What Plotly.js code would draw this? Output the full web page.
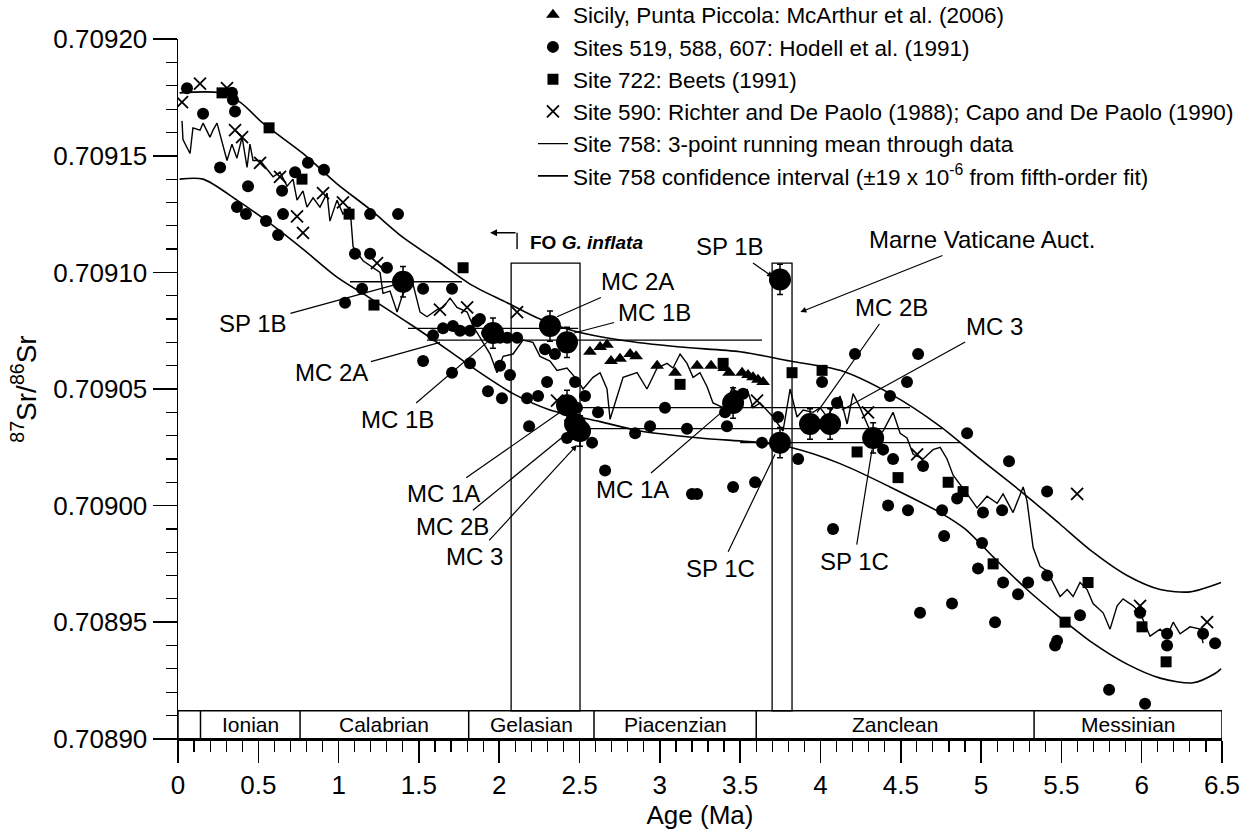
<!DOCTYPE html>
<html>
<head>
<meta charset="utf-8">
<script src="https://cdn.plot.ly/plotly-3.0.1.min.js"></script>
<style>html,body{margin:0;padding:0;background:#fff;}#chart{width:1246px;height:832px;}</style>
</head>
<body>
<div id="chart"></div>
<script>
// ---- Data ----
const triAge = [2.565,2.628,2.671,2.696,2.752,2.815,2.852,2.983,3.095,3.232,3.319,3.400,3.431,3.512,3.549,3.580,3.611,3.643];
const triSr  = [0.709066,0.709068,0.709069,0.709062,0.709063,0.709065,0.709064,0.709060,0.709057,0.709060,0.709060,0.709059,0.709057,0.709057,0.709056,0.709055,0.709054,0.709053];

const circAge = [0.056,0.156,0.336,0.342,0.355,0.262,0.436,0.367,0.423,0.548,0.623,0.654,0.648,0.729,0.809,0.909,1.196,1.370,1.102,1.196,1.301,1.146,1.526,1.706,1.040,
  1.650,1.712,1.588,1.756,1.818,1.862,1.880,1.924,2.005,2.049,2.111,1.526,1.818,1.706,2.005,2.067,1.930,2.017,2.285,2.347,2.298,2.472,2.534,2.173,2.242,
  2.484,2.615,2.186,2.422,2.578,2.846,2.939,3.032,2.659,3.169,3.406,3.468,3.418,3.200,3.232,3.456,3.593,3.636,3.861,3.518,
  3.736,4.010,4.215,4.608,4.539,4.433,4.103,4.390,4.452,4.639,4.913,5.174,4.421,4.545,4.757,5.012,5.131,4.851,4.078,4.770,
  5.006,4.981,5.137,5.293,5.230,5.411,5.411,4.620,4.819,5.087,5.616,5.473,5.461,5.990,6.158,6.158,6.382,6.457,5.797,6.021];
const circSr = [0.709179,0.709168,0.709177,0.709174,0.709169,0.709145,0.709137,0.709128,0.709125,0.709122,0.709116,0.709125,0.709135,0.709143,0.709147,0.709144,0.709125,0.709125,0.709108,0.709108,0.709102,0.709093,0.709093,0.709093,0.709087,
  0.709076,0.709077,0.709073,0.709075,0.709075,0.709079,0.709080,0.709074,0.709072,0.709072,0.709072,0.709062,0.709061,0.709057,0.709060,0.709056,0.709049,0.709046,0.709067,0.709065,0.709053,0.709053,0.709047,0.709046,0.709047,
  0.709042,0.709040,0.709034,0.709029,0.709027,0.709031,0.709034,0.709042,0.709015,0.709033,0.709040,0.709047,0.709034,0.709005,0.709005,0.709008,0.709010,0.709027,0.709020,0.709048,
  0.709038,0.709053,0.709065,0.709065,0.709053,0.709047,0.709044,0.709024,0.709020,0.709017,0.709031,0.709019,0.709000,0.708998,0.708998,0.708997,0.708998,0.709003,0.708990,0.708987,
  0.708984,0.708973,0.708967,0.708967,0.708962,0.708970,0.709006,0.708954,0.708958,0.708950,0.708953,0.708942,0.708940,0.708954,0.708945,0.708940,0.708945,0.708941,0.708921,0.708915];

const sqAge = [0.274,0.567,0.772,1.065,1.775,1.220,3.126,3.394,3.823,4.010,4.228,4.483,4.795,4.888,5.075,5.666,5.523,6.002,6.152];
const sqSr  = [0.709177,0.709162,0.709140,0.709125,0.709102,0.709086,0.709052,0.709061,0.709057,0.709058,0.709023,0.709012,0.709010,0.709006,0.708975,0.708967,0.708950,0.708948,0.708933];

const crAge = [0.025,0.137,0.305,0.355,0.399,0.511,0.635,0.741,0.778,0.903,1.027,1.239,1.631,1.800,2.111,2.360,3.605,4.296,4.602,5.598,5.990,6.407];
const crSr  = [0.709173,0.709181,0.709179,0.709161,0.709158,0.709147,0.709141,0.709124,0.709117,0.709134,0.709130,0.709104,0.709084,0.709085,0.709083,0.709045,0.709045,0.709040,0.709022,0.709005,0.708957,0.708950];

const meanAge = [0.025,0.031,0.075,0.093,0.137,0.156,0.199,0.218,0.243,0.280,
  0.305,0.336,0.367,0.399,0.430,0.448,0.467,0.511,0.554,0.592,
  0.635,0.679,0.716,0.741,0.778,0.803,0.841,0.884,0.928,0.946,
  0.990,1.027,1.071,1.090,1.152,1.214,1.258,1.276,1.320,1.364,
  1.401,1.463,1.507,1.550,1.613,1.650,1.694,1.737,1.800,1.837,
  1.880,1.943,1.986,2.024,2.086,2.148,2.210,2.254,2.316,2.360,
  2.422,2.484,2.522,2.584,2.628,2.671,2.690,2.734,2.771,2.858,
  2.920,2.983,3.045,3.082,3.126,3.169,3.207,3.250,3.294,3.331,
  3.394,3.456,3.499,3.543,3.580,3.624,3.705,3.767,3.811,3.854,
  3.892,3.954,3.998,4.041,4.122,4.166,4.203,4.247,4.290,4.328,
  4.390,4.452,4.496,4.539,4.577,4.639,4.701,4.745,4.788,4.826,
  4.913,4.975,5.037,5.100,5.137,5.199,5.262,5.286,5.324,5.367,
  5.411,5.448,5.492,5.536,5.573,5.616,5.660,5.697,5.760,5.803,
  5.847,5.884,5.947,5.990,6.052,6.115,6.158,6.196,6.239,6.301,
  6.364,6.382];
const meanSr = [0.709165,0.709157,0.709151,0.709162,0.709161,0.709164,0.709158,0.709161,0.709164,0.709155,
  0.709148,0.709155,0.709149,0.709158,0.709145,0.709155,0.709148,0.709148,0.709144,0.709141,
  0.709143,0.709137,0.709140,0.709131,0.709135,0.709128,0.709132,0.709128,0.709134,0.709122,
  0.709131,0.709125,0.709128,0.709111,0.709105,0.709102,0.709100,0.709091,0.709092,0.709083,
  0.709091,0.709095,0.709083,0.709081,0.709084,0.709085,0.709089,0.709085,0.709083,0.709077,
  0.709072,0.709065,0.709057,0.709064,0.709065,0.709071,0.709070,0.709064,0.709062,0.709058,
  0.709059,0.709054,0.709050,0.709055,0.709057,0.709050,0.709037,0.709047,0.709055,0.709057,
  0.709050,0.709059,0.709061,0.709059,0.709065,0.709061,0.709055,0.709057,0.709051,0.709044,
  0.709042,0.709051,0.709044,0.709050,0.709042,0.709044,0.709038,0.709032,0.709050,0.709038,
  0.709041,0.709040,0.709042,0.709038,0.709047,0.709035,0.709048,0.709042,0.709035,0.709029,
  0.709032,0.709040,0.709031,0.709029,0.709022,0.709020,0.709024,0.709025,0.709020,0.709013,
  0.709005,0.708999,0.709004,0.709001,0.709005,0.708997,0.709008,0.709002,0.708982,0.708974,
  0.708972,0.708967,0.708961,0.708964,0.708961,0.708967,0.708964,0.708958,0.708954,0.708947,
  0.708957,0.708960,0.708957,0.708954,0.708944,0.708947,0.708944,0.708950,0.708945,0.708948,
  0.708947,0.708941];

const ciUpAge = [0.01,0.26,0.386,0.529,0.778,0.990,1.196,1.401,1.613,1.818,2.049,2.254,2.460,2.752,3.126,3.499,3.811,4.122,4.433,4.745,4.994,5.286,5.492,5.697,5.909,6.115,6.301,6.494];
const ciUp    = [0.709177,0.709177,0.709173,0.709164,0.709151,0.709138,0.709127,0.709115,0.709105,0.709095,0.709087,0.709080,0.709075,0.709071,0.709068,0.709066,0.709062,0.709058,0.709048,0.709034,0.709020,0.709004,0.708992,0.708980,0.708970,0.708964,0.708963,0.708967];
const ciLoAge = [0.01,0.156,0.367,0.573,0.778,0.990,1.196,1.463,1.675,1.880,2.086,2.316,2.628,2.877,3.250,3.624,3.811,4.122,4.433,4.745,4.900,5.075,5.286,5.492,5.697,5.909,6.115,6.320,6.457,6.494];
const ciLo    = [0.709140,0.709140,0.709131,0.709121,0.709110,0.709098,0.709089,0.709077,0.709067,0.709057,0.709048,0.709041,0.709036,0.709032,0.709029,0.709027,0.709025,0.709018,0.709008,0.708997,0.708990,0.708978,0.708964,0.708952,0.708941,0.708932,0.708926,0.708924,0.708928,0.708930];

// labelled samples (large symbols)
const bigAge = [1.401,3.748,1.961,2.316,2.422,2.422,3.456,2.472,2.503,3.935,4.060,3.748,4.328];
const bigSr  = [0.709096,0.709097,0.709074,0.709077,0.709070,0.709043,0.709044,0.709035,0.709032,0.709035,0.709035,0.709027,0.709029];
const bigErr = [0.0000065,0.0000065,0.0000065,0.0000065,0.0000065,0.0000065,0.0000065,0.0000065,0.0000065,0.0000065,0.0000065,0.0000065,0.0000065];

// age ranges of labelled samples projected on the confidence band
const rangeStart = [1.071,1.432,1.550,2.360,2.470,3.500];
const rangeEnd   = [1.768,2.491,3.636,4.558,4.760,4.870];
const rangeSr    = [0.709096,0.709076,0.709071,0.709042,0.709033,0.709027];

// boxes: FO G. inflata and Marne Vaticane Auct.
const boxStart = [2.074,3.699];
const boxEnd   = [2.503,3.823];
const boxTop   = 0.709104;

// stages
const stageNames  = ['', 'Ionian','Calabrian','Gelasian','Piacenzian','Zanclean','Messinian'];
const stageBounds = [0, 0.14, 0.76, 1.81, 2.59, 3.60, 5.33, 6.5];
const stageTop = 0.708912;

// annotation labels
const labText = ['SP 1B','MC 2A','MC 1B','MC 2A','MC 1B','SP 1B','Marne Vaticane Auct.','MC 2B','MC 3','SP 1C','SP 1C','MC 1A','MC 1A','MC 2B','MC 3'];
const labX    = [0.467,0.953,1.364,2.858,2.964,3.437,5.006,4.440,5.081,4.209,3.375,2.827,1.650,1.712,1.843];
const labY    = [0.709078,0.709057,0.709037,0.709096,0.709083,0.709111,0.709114,0.709085,0.709077,0.708976,0.708973,0.709007,0.709005,0.708991,0.708978];
const tipX    = [1.364,1.631,1.924,2.360,2.466,3.705,3.875,3.979,4.134,4.321,3.717,3.418,2.379,2.441,2.484];
const tipY    = [0.709095,0.709070,0.709070,0.709081,0.709074,0.709098,0.709083,0.709040,0.709041,0.709024,0.709022,0.709042,0.709040,0.709032,0.709026];
const tipHead = [0,0,0,0,0,1,1,0,0,0,0,0,0,0,1];

// ---- Build chart ----
const FONT = 'Liberation Sans, Arial, Helvetica, sans-serif';
const K = '#000';

const rx = [], ry = [];
for (let i = 0; i < rangeStart.length; i++) {
  rx.push(rangeStart[i], rangeEnd[i], null);
  ry.push(rangeSr[i], rangeSr[i], null);
}

const traces = [
  {x: ciUpAge, y: ciUp, mode: 'lines', line: {color: K, width: 1.6, shape: 'spline', smoothing: 0.8},
   name: 'Site 758 confidence interval (±19 x 10<sup>-6</sup> from fifth-order fit)', legendrank: 6},
  {x: ciLoAge, y: ciLo, mode: 'lines', line: {color: K, width: 1.6, shape: 'spline', smoothing: 0.8}, showlegend: false},
  {x: meanAge, y: meanSr, mode: 'lines', line: {color: K, width: 1.4},
   name: 'Site 758: 3-point running mean through data', legendrank: 5},
  {x: rx, y: ry, mode: 'lines', line: {color: K, width: 1.3}, showlegend: false, connectgaps: false},
  {x: triAge, y: triSr, mode: 'markers', marker: {symbol: 'triangle-up', size: 12, color: K},
   name: 'Sicily, Punta Piccola: McArthur et al. (2006)', legendrank: 1},
  {x: circAge, y: circSr, mode: 'markers', marker: {symbol: 'circle', size: 12, color: K},
   name: 'Sites 519, 588, 607: Hodell et al. (1991)', legendrank: 2},
  {x: sqAge, y: sqSr, mode: 'markers', marker: {symbol: 'square', size: 11, color: K},
   name: 'Site 722: Beets (1991)', legendrank: 3},
  {x: crAge, y: crSr, mode: 'markers', marker: {symbol: 'x-thin', size: 12, color: K, line: {color: K, width: 1.8}},
   name: 'Site 590: Richter and De Paolo (1988); Capo and De Paolo (1990)', legendrank: 4},
  {x: bigAge, y: bigSr, mode: 'markers', marker: {symbol: 'circle', size: 22, color: K},
   error_y: {type: 'data', array: bigErr, visible: true, color: K, thickness: 1.5, width: 3}, showlegend: false}
];

const shapes = [];
for (let i = 0; i < boxStart.length; i++) {
  shapes.push({type: 'rect', xref: 'x', yref: 'y', x0: boxStart[i], x1: boxEnd[i], y0: stageTop, y1: boxTop,
    line: {color: K, width: 1.3}, layer: 'below'});
}
shapes.push({type: 'rect', xref: 'x', yref: 'y', x0: stageBounds[0], x1: stageBounds[stageBounds.length - 1],
  y0: 0.7089, y1: stageTop, line: {color: K, width: 1.5}, fillcolor: 'rgba(0,0,0,0)'});
for (let i = 1; i < stageBounds.length - 1; i++) {
  shapes.push({type: 'line', xref: 'x', yref: 'y', x0: stageBounds[i], x1: stageBounds[i], y0: 0.7089, y1: stageTop,
    line: {color: K, width: 1.5}});
}
// FO G. inflata bracket (vertical part)
shapes.push({type: 'line', xref: 'x', yref: 'y', x0: 2.111, x1: 2.111, y0: 0.709110, y1: 0.709117, line: {color: K, width: 1.4}});

const annotations = [];
for (let i = 0; i < stageNames.length; i++) {
  if (!stageNames[i]) continue;
  annotations.push({x: (stageBounds[i] + stageBounds[i + 1]) / 2, y: (0.7089 + stageTop) / 2, xref: 'x', yref: 'y',
    text: stageNames[i], showarrow: false, font: {family: FONT, size: 21, color: K}});
}
for (let i = 0; i < labText.length; i++) {
  annotations.push({x: tipX[i], y: tipY[i], ax: labX[i], ay: labY[i], xref: 'x', yref: 'y', axref: 'x', ayref: 'y',
    text: labText[i], showarrow: true, arrowhead: tipHead[i] ? 2 : 0, arrowsize: 1, arrowwidth: 1.2, arrowcolor: K,
    standoff: 0, startstandoff: 2, font: {family: FONT, size: 24, color: K}});
}
annotations.push({x: 1.943, y: 0.709117, ax: 2.111, ay: 0.709117, xref: 'x', yref: 'y', axref: 'x', ayref: 'y',
  text: '', showarrow: true, arrowhead: 2, arrowsize: 1, arrowwidth: 1.4, arrowcolor: K, standoff: 0});
annotations.push({x: 2.179, y: 0.709113, xref: 'x', yref: 'y', xanchor: 'left', yanchor: 'middle', showarrow: false,
  text: '<b>FO <i>G. inflata</i></b>', font: {family: FONT, size: 19, color: K}});

const layout = {
  width: 1246, height: 832,
  margin: {l: 178, r: 24, t: 39, b: 93, pad: 0, autoexpand: false},
  paper_bgcolor: '#fff', plot_bgcolor: '#fff',
  font: {family: FONT, color: K},
  showlegend: true,
  legend: {x: 0.340, y: 1.065, xanchor: 'left', yanchor: 'top', bgcolor: 'rgba(0,0,0,0)',
    font: {family: FONT, size: 22.5, color: K}, tracegroupgap: 0, itemwidth: 30},
  xaxis: {range: [0, 6.5], showgrid: false, zeroline: false, showline: true, linecolor: K, linewidth: 1.5,
    ticks: 'outside', ticklen: 22, tickwidth: 1.5, tickcolor: K, tick0: 0, dtick: 0.5,
    minor: {ticks: 'outside', dtick: 0.1, ticklen: 11, tickwidth: 1.2, tickcolor: K, showgrid: false},
    tickfont: {family: FONT, size: 26, color: K}, automargin: false,
    title: {text: 'Age (Ma)', font: {family: FONT, size: 26, color: K}, standoff: 6}},
  yaxis: {range: [0.7088999, 0.7092001], showgrid: false, zeroline: false, showline: true, linecolor: K, linewidth: 1.5,
    ticks: 'outside', ticklen: 24, tickwidth: 1.5, tickcolor: K, tick0: 0.7089, dtick: 0.00005, tickformat: '.5f',
    minor: {ticks: 'outside', dtick: 0.00001, ticklen: 11, tickwidth: 1.2, tickcolor: K, showgrid: false},
    tickfont: {family: FONT, size: 26, color: K}, automargin: false,
    title: {text: '<sup>87</sup>Sr/<sup>86</sup>Sr', font: {family: FONT, size: 28, color: K}, standoff: 8}},
  shapes: shapes,
  annotations: annotations
};

Plotly.newPlot('chart', traces, layout, {staticPlot: true, displayModeBar: false});
</script>
</body>
</html>
